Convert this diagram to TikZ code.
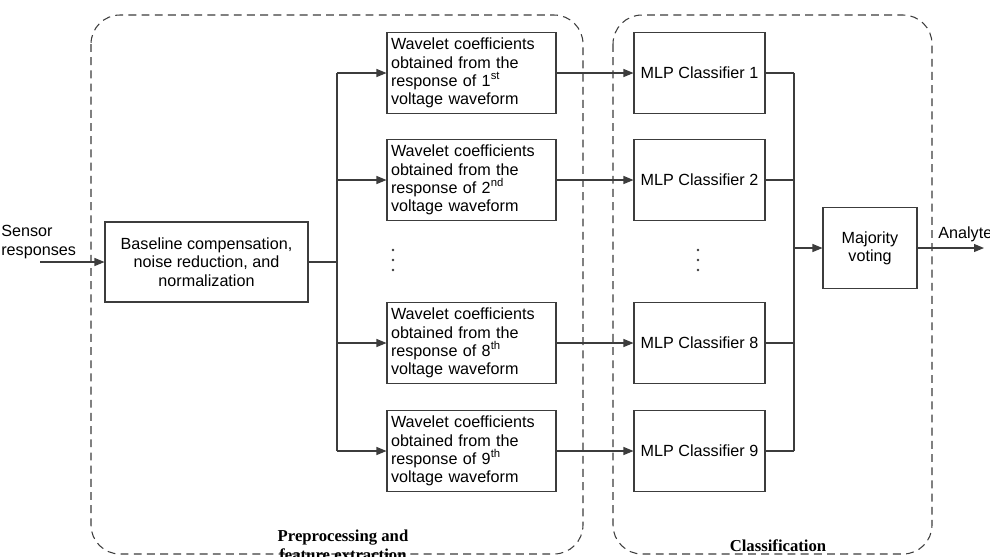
\documentclass[tikz,border=0pt]{standalone}
\usepackage{fontspec}
\setmainfont{Liberation Sans}
\newfontfamily\grouplabelfont{Liberation Serif}
\usetikzlibrary{arrows.meta, positioning, calc}
\definecolor{linegray}{RGB}{60, 60, 60}

\begin{document}
\begin{tikzpicture}[
  x=0.02cm, y=-0.02cm,
  font=\fontsize{9.2}{10.4}\selectfont,
  blk/.style={rectangle, draw=linegray, line width=0.6pt, align=center,
              minimum width=4.06cm, minimum height=1.6cm, inner sep=0.08cm},
  wave/.style={rectangle, draw=linegray, line width=0.6pt, align=left,
               text width=3.22cm, minimum height=1.62cm, inner sep=0.08cm},
  mlp/.style={rectangle, draw=linegray, line width=0.6pt, align=center,
              minimum width=2.62cm, minimum height=1.62cm},
  vote/.style={rectangle, draw=linegray, line width=0.6pt, align=center,
               minimum width=1.88cm, minimum height=1.62cm},
  group/.style={draw=linegray, line width=0.6pt, dash pattern=on 4.5pt off 3pt,
                rounded corners=0.58cm},
  grouplabel/.style={font=\grouplabelfont\bfseries\fontsize{9.5}{11}\selectfont, align=center},
  wire/.style={draw=linegray, line width=0.6pt},
  arr/.style={wire, -{Triangle[length=2mm, width=1.6mm]}}
]
  \useasboundingbox (0,0) rectangle (990,556);

  % dashed stage frames
  \draw[group] (91,15) rectangle (583,554);
  \draw[group] (613,15) rectangle (932,554);
  \node[grouplabel] (prelabel) at (343,545) {Preprocessing and\\feature extraction};
  \node[grouplabel] (clslabel) at (778,546) {Classification};

  % input and preprocessing
  \node[anchor=west, align=left, inner sep=0pt] (sensor) at (1,242) {Sensor\\responses};
  \coordinate (in) at (40,262);
  \node[blk] (base) at (206.5,262) {Baseline compensation,\\noise reduction, and\\normalization};
  \draw[arr] (in) -- (base);

  % wavelet feature boxes
  \node[wave] (w1) at (471.5,73) {Wavelet coefficients\\obtained from the\\response of 1\textsuperscript{st}\\voltage waveform};
  \node[wave] (w2) at (471.5,180) {Wavelet coefficients\\obtained from the\\response of 2\textsuperscript{nd}\\voltage waveform};
  \node[wave] (w8) at (471.5,343) {Wavelet coefficients\\obtained from the\\response of 8\textsuperscript{th}\\voltage waveform};
  \node[wave] (w9) at (471.5,451) {Wavelet coefficients\\obtained from the\\response of 9\textsuperscript{th}\\voltage waveform};
  \foreach \y in {250,260,270}
    \fill[linegray] (393,\y) circle (1.3);

  \coordinate (split) at (337,262);
  \draw[wire] (base) -- (split);
  \draw[wire] (split |- w1) -- (split |- w9);
  \foreach \i in {1,2,8,9}
    \draw[arr] (split |- w\i) -- (w\i);

  % classifiers
  \node[mlp] (m1) at (699.5,73) {MLP Classifier 1};
  \node[mlp] (m2) at (699.5,180) {MLP Classifier 2};
  \node[mlp] (m8) at (699.5,343) {MLP Classifier 8};
  \node[mlp] (m9) at (699.5,451) {MLP Classifier 9};
  \foreach \y in {250,260,270}
    \fill[linegray] (698,\y) circle (1.3);
  \foreach \i in {1,2,8,9}
    \draw[arr] (w\i) -- (m\i);

  % voting
  \node[vote] (vote) at (870,248) {Majority\\voting};
  \coordinate (merge) at (794,248);
  \foreach \i in {1,2,8,9}
    \draw[wire] (m\i) -- (merge |- m\i);
  \draw[wire] (merge |- m1) -- (merge |- m9);
  \draw[arr] (merge) -- (vote);

  % output
  \coordinate (out) at (984,248);
  \draw[arr] (vote) -- (out);
  \node[anchor=west, inner sep=0pt] (analyte) at (938,234) {Analyte};
\end{tikzpicture}
\end{document}
